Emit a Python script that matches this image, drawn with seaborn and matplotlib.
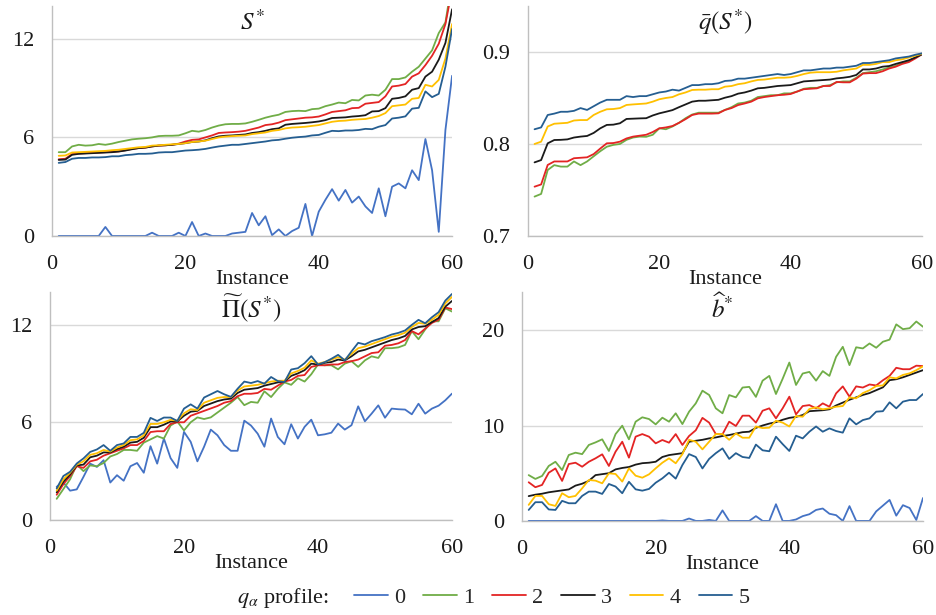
import numpy as np
import pandas as pd
import seaborn as sns
import matplotlib.pyplot as plt

# instance numbers 1..60
instances = list(range(1, 61))
profiles = ['0', '1', '2', '3', '4', '5']
colors = ['#4472C4', '#70AD47', '#E32424', '#1A1A1A', '#FFC000', '#255E91']

# --- S* ---
s_p0 = [0, 0, 0, 0, 0, 0, 0, 0.55, 0, 0, 0, 0, 0, 0, 0.2, 0, 0, 0, 0.2, 0,
        0.85, 0, 0.15, 0, 0, 0, 0.15, 0.2, 0.25, 1.4, 0.65, 1.2, 0.05, 0.4, 0, 0.3, 0.5, 1.95, 0, 1.48,
        2.2, 2.85, 2.15, 2.8, 2.03, 2.4, 1.8, 1.4, 2.9, 1.2, 3.0, 3.2, 2.9, 4.0, 3.4, 5.9, 4.0, 0.25, 6.45, 9.75]
s_p1 = [5.1, 5.1, 5.45, 5.55, 5.5, 5.52, 5.6, 5.55, 5.62, 5.72, 5.8, 5.88, 5.92, 5.95, 6.0, 6.08, 6.1, 6.1, 6.12, 6.25,
        6.4, 6.35, 6.45, 6.6, 6.72, 6.8, 6.82, 6.82, 6.85, 6.95, 7.07, 7.2, 7.3, 7.38, 7.55, 7.6, 7.62, 7.6, 7.72, 7.75,
        7.9, 8.0, 8.12, 8.08, 8.28, 8.25, 8.55, 8.6, 8.55, 8.9, 9.55, 9.55, 9.65, 10.0, 10.3, 10.8, 11.3, 12.35, 13.0, 15.5]
s_p2 = [4.67, 4.7, 4.98, 5.02, 5.04, 5.06, 5.08, 5.1, 5.12, 5.15, 5.22, 5.3, 5.35, 5.38, 5.45, 5.5, 5.52, 5.55, 5.62, 5.75,
        5.85, 5.88, 6.0, 6.12, 6.27, 6.3, 6.32, 6.35, 6.4, 6.5, 6.6, 6.75, 6.8, 6.9, 7.05, 7.1, 7.15, 7.2, 7.22, 7.27,
        7.4, 7.55, 7.6, 7.65, 7.78, 7.8, 8.05, 8.1, 8.15, 8.5, 9.1, 9.15, 9.25, 9.7, 9.9, 10.4, 10.97, 11.7, 12.9, 15.0]
s_p3 = [4.63, 4.65, 4.94, 5.0, 5.02, 5.04, 5.06, 5.08, 5.1, 5.14, 5.2, 5.28, 5.35, 5.38, 5.45, 5.5, 5.52, 5.55, 5.6, 5.65,
        5.72, 5.75, 5.82, 5.95, 6.06, 6.1, 6.12, 6.15, 6.18, 6.27, 6.32, 6.4, 6.5, 6.55, 6.77, 6.82, 6.85, 6.88, 6.92, 6.97,
        7.05, 7.18, 7.2, 7.22, 7.27, 7.3, 7.35, 7.58, 7.6, 7.78, 8.35, 8.4, 8.5, 8.9, 9.0, 9.7, 10.0, 10.73, 11.75, 13.8]
s_p4 = [4.88, 4.9, 5.08, 5.1, 5.12, 5.14, 5.16, 5.18, 5.22, 5.25, 5.3, 5.35, 5.4, 5.42, 5.5, 5.52, 5.55, 5.58, 5.6, 5.65,
        5.72, 5.75, 5.8, 5.9, 6.0, 6.05, 6.08, 6.1, 6.12, 6.2, 6.25, 6.3, 6.4, 6.45, 6.55, 6.6, 6.62, 6.65, 6.7, 6.75,
        6.85, 6.95, 7.0, 7.02, 7.07, 7.1, 7.12, 7.2, 7.3, 7.48, 7.9, 7.95, 8.0, 8.35, 8.4, 9.2, 9.1, 9.5, 10.8, 12.9]
s_p5 = [4.45, 4.5, 4.7, 4.75, 4.75, 4.78, 4.78, 4.8, 4.85, 4.85, 4.92, 4.95, 5.0, 5.0, 5.02, 5.08, 5.1, 5.1, 5.15, 5.2,
        5.22, 5.25, 5.3, 5.38, 5.45, 5.5, 5.55, 5.55, 5.6, 5.65, 5.7, 5.75, 5.82, 5.85, 5.92, 5.98, 6.02, 6.05, 6.12, 6.15,
        6.28, 6.4, 6.38, 6.42, 6.42, 6.45, 6.52, 6.5, 6.65, 6.75, 7.15, 7.2, 7.28, 7.75, 7.8, 8.8, 8.45, 8.65, 10.3, 12.6]

# --- q bar(S*) ---
q_p1 = [0.7428, 0.7457, 0.7717, 0.777, 0.7754, 0.7754, 0.781, 0.777, 0.781, 0.7866, 0.7921, 0.797, 0.799, 0.800, 0.8045,
        0.807, 0.808, 0.8078, 0.810, 0.817, 0.816, 0.819, 0.823, 0.828, 0.832, 0.834, 0.834, 0.834, 0.834, 0.837,
        0.840, 0.844, 0.845, 0.847, 0.851, 0.852, 0.853, 0.853, 0.855, 0.855, 0.857, 0.860, 0.861, 0.861, 0.863,
        0.864, 0.867, 0.868, 0.868, 0.872, 0.877, 0.878, 0.879, 0.881, 0.883, 0.885, 0.888, 0.890, 0.894, 0.898]
q_p2 = [0.7536, 0.756, 0.7772, 0.781, 0.781, 0.781, 0.7845, 0.785, 0.7855, 0.789, 0.795, 0.8007, 0.801, 0.8025, 0.806,
        0.808, 0.809, 0.810, 0.813, 0.817, 0.818, 0.8195, 0.823, 0.827, 0.8315, 0.833, 0.833, 0.833, 0.8333, 0.837,
        0.839, 0.8423, 0.844, 0.846, 0.8496, 0.851, 0.852, 0.853, 0.8535, 0.8543, 0.857, 0.8595, 0.860, 0.8605, 0.863,
        0.863, 0.8674, 0.867, 0.867, 0.871, 0.8765, 0.877, 0.877, 0.879, 0.882, 0.884, 0.887, 0.889, 0.893, 0.8975]
q_p3 = [0.780, 0.7825, 0.8007, 0.8043, 0.8045, 0.805, 0.807, 0.808, 0.8087, 0.812, 0.817, 0.8207, 0.821, 0.8225, 0.8272,
        0.8275, 0.8278, 0.828, 0.831, 0.8333, 0.835, 0.8368, 0.840, 0.843, 0.846, 0.847, 0.847, 0.8475, 0.848, 0.8503,
        0.852, 0.8547, 0.856, 0.858, 0.8605, 0.861, 0.862, 0.863, 0.8635, 0.864, 0.866, 0.868, 0.8685, 0.869, 0.8695,
        0.870, 0.8713, 0.872, 0.873, 0.875, 0.881, 0.881, 0.882, 0.884, 0.8847, 0.887, 0.889, 0.891, 0.894, 0.8975]
q_p4 = [0.800, 0.8025, 0.819, 0.822, 0.8225, 0.823, 0.8255, 0.826, 0.826, 0.8315, 0.835, 0.8377, 0.838, 0.839, 0.8424,
        0.843, 0.8435, 0.844, 0.846, 0.8486, 0.850, 0.851, 0.854, 0.856, 0.8587, 0.859, 0.859, 0.8595, 0.8595, 0.8623,
        0.863, 0.865, 0.866, 0.868, 0.8696, 0.870, 0.871, 0.872, 0.872, 0.8725, 0.874, 0.876, 0.8775, 0.878, 0.878,
        0.878, 0.8785, 0.880, 0.881, 0.882, 0.886, 0.886, 0.887, 0.889, 0.889, 0.891, 0.892, 0.894, 0.896, 0.898]
q_p5 = [0.816, 0.818, 0.8315, 0.833, 0.835, 0.835, 0.836, 0.839, 0.837, 0.841, 0.845, 0.848, 0.848, 0.848, 0.852,
        0.851, 0.852, 0.852, 0.854, 0.856, 0.857, 0.859, 0.858, 0.861, 0.864, 0.864, 0.865, 0.865, 0.866, 0.8685,
        0.869, 0.871, 0.871, 0.872, 0.873, 0.874, 0.875, 0.876, 0.875, 0.876, 0.878, 0.880, 0.880, 0.881, 0.882,
        0.882, 0.883, 0.883, 0.884, 0.885, 0.888, 0.888, 0.889, 0.890, 0.891, 0.893, 0.894, 0.895, 0.897, 0.8985]

# --- Pi tilde(S*) ---
pi_p0 = [2.04, 2.3, 1.8, 1.88, 2.65, 3.46, 3.26, 3.67, 2.3, 2.75, 2.41, 3.3, 3.5, 2.9, 4.53, 3.46, 5.0, 3.8, 3.2, 5.41,
         4.8, 3.6, 4.5, 5.55, 5.2, 4.6, 4.25, 4.25, 6.1, 5.8, 5.3, 4.5, 6.23, 5.1, 4.65, 5.88, 5.0, 5.72, 6.16, 5.2,
         5.26, 5.36, 5.92, 5.55, 5.82, 6.98, 6.06, 6.53, 7.04, 6.28, 6.84, 6.8, 6.78, 6.49, 7.14, 6.53, 6.84, 7.02, 7.35, 7.76]
pi_p1 = [1.3, 1.9, 2.5, 3.4, 3.0, 3.35, 3.3, 3.5, 3.9, 4.05, 4.3, 4.3, 4.25, 4.75, 4.95, 5.15, 5.0, 5.8, 6.05, 5.5,
         6.0, 6.3, 6.2, 6.3, 6.6, 6.9, 7.2, 7.55, 7.05, 7.25, 7.2, 7.9, 7.55, 8.05, 8.45, 8.3, 8.7, 8.5, 8.95, 9.55,
         9.5, 9.5, 9.25, 9.6, 9.75, 9.4, 9.8, 10.05, 9.95, 10.55, 10.55, 10.6, 10.75, 11.6, 11.1, 11.7, 12.2, 12.2, 13.0, 12.8]
pi_p2 = [1.55, 2.2, 2.7, 3.3, 3.2, 3.6, 3.7, 3.95, 4.1, 4.25, 4.4, 4.6, 4.6, 4.85, 5.4, 5.45, 5.45, 5.9, 6.0, 6.0,
         6.4, 6.55, 6.7, 6.85, 7.0, 7.2, 7.3, 7.6, 7.75, 7.75, 7.8, 8.05, 8.0, 8.25, 8.5, 8.6, 8.85, 8.9, 9.4, 9.5,
         9.5, 9.55, 9.55, 9.7, 9.75, 9.85, 10.05, 10.25, 10.3, 10.7, 10.75, 10.85, 11.05, 11.6, 11.4, 11.75, 12.1, 12.3, 13.05, 12.95]
pi_p3 = [1.7, 2.35, 2.8, 3.35, 3.4, 3.85, 3.95, 4.15, 4.15, 4.35, 4.5, 4.75, 4.8, 5.05, 5.7, 5.7, 5.85, 6.05, 6.05, 6.4,
         6.65, 6.7, 7.0, 7.15, 7.3, 7.4, 7.45, 7.8, 8.0, 8.05, 8.1, 8.25, 8.35, 8.45, 8.5, 8.85, 9.0, 9.2, 9.6, 9.55,
         9.65, 9.7, 9.85, 9.8, 10.05, 10.35, 10.45, 10.6, 10.75, 10.9, 11.05, 11.15, 11.3, 11.7, 11.85, 11.9, 12.15, 12.4, 13.1, 13.45]
pi_p4 = [1.8, 2.5, 2.9, 3.4, 3.6, 4.0, 4.1, 4.3, 4.2, 4.45, 4.6, 4.9, 4.95, 5.2, 5.9, 5.9, 6.0, 6.15, 6.1, 6.55,
         6.8, 6.75, 7.2, 7.35, 7.5, 7.55, 7.55, 7.95, 8.2, 8.25, 8.3, 8.4, 8.5, 8.55, 8.55, 9.0, 9.15, 9.35, 9.8, 9.6,
         9.7, 9.85, 10.0, 9.85, 10.2, 10.55, 10.65, 10.8, 10.95, 11.1, 11.25, 11.35, 11.5, 11.85, 12.1, 12.05, 12.3, 12.6, 13.3, 13.7]
pi_p5 = [1.94, 2.7, 2.96, 3.47, 3.78, 4.18, 4.33, 4.6, 4.25, 4.6, 4.7, 5.1, 5.1, 5.35, 6.27, 6.08, 6.29, 6.29, 6.08, 6.84,
         7.1, 6.84, 7.52, 7.72, 7.92, 7.72, 7.56, 8.06, 8.5, 8.41, 8.53, 8.37, 8.78, 8.53, 8.47, 9.24, 9.32, 9.63, 10.06, 9.55,
         9.69, 9.9, 10.14, 9.8, 10.35, 10.88, 10.78, 10.98, 11.1, 11.23, 11.39, 11.49, 11.64, 11.98, 12.29, 12.08, 12.45, 12.76, 13.47, 13.88]

# --- b hat* ---
b_p0 = [0, 0, 0, 0, 0, 0, 0, 0, 0, 0, 0, 0, 0, 0, 0, 0, 0, 0, 0, 0,
        0.05, 0, 0, 0, 0.25, 0, 0, 0.1, 0, 1.1, 0, 0, 0, 0, 0.5, 0, 0, 1.75, 0, 0,
        0.15, 0.5, 0.7, 1.15, 1.3, 0.75, 0.6, 0, 1.55, 0, 0, 0, 1.0, 1.6, 2.2, 0.55, 1.65, 1.35, 0.1, 2.4]
b_p1 = [4.8, 4.4, 4.71, 5.76, 6.2, 5.33, 6.91, 7.15, 7.0, 7.96, 8.23, 8.55, 7.33, 9.1, 9.98, 8.55, 10.4, 10.86, 10.68, 10.12,
        10.82, 10.4, 11.28, 10.15, 11.45, 12.32, 13.65, 13.2, 11.8, 11.28, 13.19, 12.95, 13.98, 14.05, 13.0, 14.7, 15.2, 13.3, 14.9, 16.6,
        14.25, 15.45, 15.62, 14.7, 15.7, 15.2, 17.2, 18.25, 16.33, 18.2, 18.08, 18.6, 18.15, 18.78, 19.0, 20.6, 20.1, 20.2, 20.9, 20.35]
b_p2 = [4.05, 3.53, 3.77, 5.05, 5.5, 4.19, 5.96, 6.1, 5.68, 6.2, 6.56, 6.98, 5.76, 7.26, 8.3, 6.63, 8.83, 9.1, 8.83, 8.13,
        8.48, 8.2, 9.1, 7.96, 8.9, 9.5, 10.8, 10.3, 9.1, 9.08, 10.4, 9.95, 11.03, 11.03, 10.3, 11.55, 11.8, 10.75, 11.8, 13.02,
        11.17, 12.04, 12.14, 11.8, 12.32, 11.97, 13.37, 14.1, 13.02, 14.1, 13.98, 14.3, 14.2, 14.74, 15.2, 16.05, 15.9, 15.9, 16.27, 16.23]
b_p3 = [2.6, 2.75, 2.85, 3.0, 3.1, 3.2, 3.3, 3.7, 3.9, 4.2, 4.8, 4.9, 5.0, 5.4, 5.55, 5.65, 5.9, 6.05, 6.1, 6.2,
        6.7, 6.9, 7.0, 7.1, 8.3, 8.4, 8.5, 8.65, 8.75, 8.9, 9.0, 9.15, 9.3, 9.35, 9.75, 10.0, 10.2, 10.35, 10.6, 10.8,
        10.9, 11.1, 11.5, 11.55, 11.6, 11.7, 12.1, 12.4, 12.7, 12.95, 13.2, 13.4, 13.7, 14.0, 14.75, 14.85, 15.05, 15.3, 15.55, 15.8]
b_p4 = [1.68, 2.62, 2.62, 1.75, 1.57, 2.9, 2.48, 2.62, 3.42, 4.29, 4.22, 3.94, 4.99, 4.92, 4.12, 5.51, 4.74, 4.53, 4.88, 5.51,
        6.1, 6.56, 6.04, 7.0, 8.5, 8.3, 7.5, 8.3, 9.1, 9.1, 8.5, 9.17, 8.72, 8.72, 9.9, 9.73, 9.77, 10.5, 10.3, 9.9,
        11.0, 10.92, 11.73, 11.9, 11.7, 11.8, 11.97, 12.04, 12.95, 12.85, 13.4, 13.7, 14.14, 14.2, 15.05, 14.94, 15.3, 15.47, 15.8, 16.2]
b_p5 = [1.15, 1.96, 1.96, 1.2, 1.15, 2.1, 1.85, 1.85, 2.62, 3.07, 3.07, 2.83, 3.87, 3.6, 2.9, 4.1, 3.31, 3.17, 3.35, 4.0,
        4.46, 5.05, 4.43, 5.86, 7.0, 6.7, 5.5, 6.5, 7.1, 7.6, 6.5, 7.1, 6.7, 6.6, 8.0, 7.4, 7.3, 8.83, 8.05, 7.33,
        8.93, 8.65, 9.35, 9.9, 9.35, 9.7, 9.42, 9.25, 10.75, 10.12, 10.57, 10.75, 11.45, 11.5, 12.43, 11.8, 12.5, 12.67, 12.67, 13.3]

panels = [
    ('$S^{*}$', [s_p0, s_p1, s_p2, s_p3, s_p4, s_p5], (0, 14), [0, 6, 12]),
    (r'$\bar{q}(S^{*})$', [None, q_p1, q_p2, q_p3, q_p4, q_p5], (0.7, 0.95), [0.7, 0.8, 0.9]),
    (r'$\widetilde{\Pi}(S^{*})$', [pi_p0, pi_p1, pi_p2, pi_p3, pi_p4, pi_p5], (0, 14), [0, 6, 12]),
    (r'$\widehat{b}^{*}$', [b_p0, b_p1, b_p2, b_p3, b_p4, b_p5], (0, 24), [0, 10, 20]),
]

sns.set_theme(style='white')
plt.rcParams['font.family'] = ['Liberation Serif', 'DejaVu Serif']
plt.rcParams['mathtext.fontset'] = 'stix'

fig = plt.figure(figsize=(9.36, 6.15), dpi=100)
rects = [
    [0.0556, 0.6163, 0.4274, 0.3740],
    [0.5641, 0.6163, 0.4209, 0.3740],
    [0.0534, 0.1545, 0.4295, 0.3707],
    [0.5577, 0.1530, 0.4284, 0.3723],
]
palette = dict(zip(profiles, colors))

for rect, (title, series, ylim, yticks) in zip(rects, panels):
    ax = fig.add_axes(rect)
    rows = []
    for name, vals in zip(profiles, series):
        if vals is None:
            continue
        rows.append(pd.DataFrame({'Instance': instances, 'value': vals, 'profile': name}))
    df = pd.concat(rows, ignore_index=True)
    sns.lineplot(data=df, x='Instance', y='value', hue='profile', palette=palette,
                 hue_order=[p for p, v in zip(profiles, series) if v is not None],
                 linewidth=1.3, ax=ax, legend=False)
    ax.set_xlim(0, 60)
    ax.set_ylim(*ylim)
    ax.set_xticks([0, 20, 40, 60])
    ax.set_yticks(yticks)
    ax.yaxis.grid(True, color='#D9D9D9', linewidth=1.0)
    ax.xaxis.grid(False)
    ax.set_axisbelow(True)
    for side in ['top', 'right']:
        ax.spines[side].set_visible(False)
    for side in ['left', 'bottom']:
        ax.spines[side].set_color('#BFBFBF')
        ax.spines[side].set_linewidth(1.0)
    ax.tick_params(axis='both', length=0, labelsize=16, labelcolor='#1A1A1A')
    ax.tick_params(axis='x', pad=14)
    ax.tick_params(axis='y', pad=13)
    ax.set_xlabel('Instance', fontsize=16, color='#1A1A1A', labelpad=-3)
    ax.set_ylabel('')
    ax.text(0.5, 0.93, title, transform=ax.transAxes, ha='center', va='center',
            fontsize=18, color='#1A1A1A')

handles = [plt.Line2D([], [], color=c, linewidth=1.3) for c in colors]
fig.legend(handles, profiles, loc='center', bbox_to_anchor=(0.59, 0.028), ncol=6,
           frameon=False, fontsize=16, handlelength=1.5, handletextpad=0.3, columnspacing=0.8)
fig.text(0.302, 0.028, r'$q_{\alpha}$ profile:', ha='center', va='center', fontsize=16, color='#1A1A1A')

fig.savefig('out.png', dpi=100)
